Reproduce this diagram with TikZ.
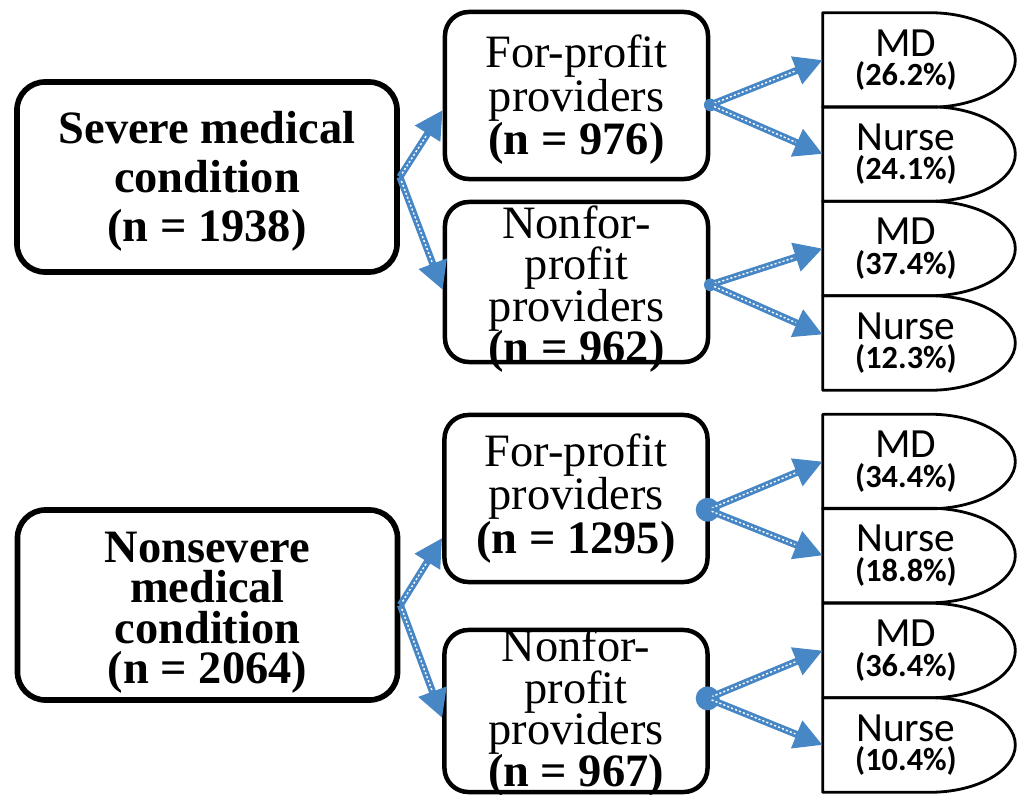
\documentclass[tikz,border=0pt]{standalone}
\usepackage{fontspec}
\setmainfont{Liberation Serif}
\newfontfamily\carlito{Carlito}
\usetikzlibrary{arrows.meta,calc}
\definecolor{ablue}{RGB}{72,135,197}
\newcommand\lsl{\lineskiplimit=-50pt\relax}
\newcommand\Dpath[1]{\draw[dline] (#1.north west) -- ($(#1.north west)+(107,0)$) .. controls +(47,0) and +(0,-26) .. (#1.east) .. controls +(0,26) and +(47,0) .. ($(#1.south west)+(107,0)$) -- (#1.south west) -- cycle;}
\newcommand\pct[1]{{\fontsize{23pt}{21pt}\selectfont\bfseries(#1\%)}}
\begin{document}
\begin{tikzpicture}[x=0.025cm,y=-0.025cm,
  bigbox/.style={draw, line width=4pt, rounded corners=20pt, minimum width=9.5cm, minimum height=4.75cm, inner sep=0pt},
  bigtext/.style={align=center, inner sep=0pt, font={\fontsize{33pt}{35pt}\selectfont\bfseries\lsl}},
  midbox/.style={draw, line width=3.2pt, rounded corners=17pt, minimum width=6.575cm, inner sep=0pt},
  midtext/.style={align=center, inner sep=0pt, font={\fontsize{33pt}{31pt}\selectfont\lsl}},
  dbox/.style={rectangle, minimum width=4.8cm, minimum height=2.35cm, inner sep=0pt},
  dline/.style={line width=2pt, line join=round},
  dtext/.style={align=center, inner sep=0pt, font={\carlito\fontsize{29.5pt}{21pt}\selectfont\lsl}},
  arr/.style={draw=ablue, line width=5pt, -{Triangle[length=20pt,width=20pt]}, postaction={draw=white, line width=1pt, dash pattern=on 1.5pt off 1.5pt, -, shorten >=21pt, shorten <=3pt}},
  dot/.style={circle, fill=ablue, inner sep=0pt, minimum size=#1}
]
\useasboundingbox (0,0) rectangle (1022,795);

% left boxes
\node[bigbox] (sev) at (207,177) {};
\node[bigtext] (sevt) at ([yshift=-3pt]sev.center) {Severe medical\\condition\\(n = 1938)};
\node[bigbox] (nsev) at (207.5,605) {};
\node[bigtext, font={\fontsize{33pt}{28.5pt}\selectfont\bfseries\lsl}] (nsevt) at ([yshift=-5.5pt]nsev.center) {Nonsevere\\medical\\condition\\(n = 2064)};

% middle boxes
\node[midbox, minimum height=4.175cm] (fp1) at (576.5,95.5) {};
\node[midtext] (fp1t) at ([yshift=-3pt]fp1.center) {For-profit\\providers\\\textbf{(n = 976)}};
\node[midbox, minimum height=4.0cm] (nf2) at (576.5,282) {};
\node[midtext, font={\fontsize{33pt}{29.5pt}\selectfont\lsl}] (nf2t) at ([yshift=-5pt]nf2.center) {Nonfor-\\profit\\providers\\\textbf{(n = 962)}};
\node[midbox, minimum height=4.175cm] (fp3) at (576,498.5) {};
\node[midtext] (fp3t) at (fp3.center) {For-profit\\providers\\\textbf{(n = 1295)}};
\node[midbox, minimum height=4.05cm] (nf4) at (576,711) {};
\node[midtext, font={\fontsize{33pt}{29.5pt}\selectfont\lsl}] (nf4t) at ([yshift=-1pt]nf4.center) {Nonfor-\\profit\\providers\\\textbf{(n = 967)}};

% D shapes
\node[dbox] (md1) at (919,60) {};
\node[dbox] (nu1) at (919,154) {};
\node[dbox] (md2) at (919,248.5) {};
\node[dbox] (nu2) at (919,343) {};
\node[dbox] (md3) at (919,461.5) {};
\node[dbox] (nu3) at (919,555.5) {};
\node[dbox] (md4) at (919,650.5) {};
\node[dbox] (nu4) at (919,745) {};
\Dpath{md1}\Dpath{nu1}\Dpath{md2}\Dpath{nu2}\Dpath{md3}\Dpath{nu3}\Dpath{md4}\Dpath{nu4}
\node[dtext] (md1t) at (906,60) {MD\\\pct{26.2}};
\node[dtext] (nu1t) at (906,154) {Nurse\\\pct{24.1}};
\node[dtext] (md2t) at (906,248.5) {MD\\\pct{37.4}};
\node[dtext] (nu2t) at (906,343) {Nurse\\\pct{12.3}};
\node[dtext] (md3t) at (906,461.5) {MD\\\pct{34.4}};
\node[dtext] (nu3t) at (906,555.5) {Nurse\\\pct{18.8}};
\node[dtext] (md4t) at (906,650.5) {MD\\\pct{36.4}};
\node[dtext] (nu4t) at (906,745) {Nurse\\\pct{10.4}};

% origins
\node[dot=9pt] (o1) at ([yshift=-6.7pt]fp1.east) {};
\node[dot=9pt] (o2) at ([yshift=-2pt]nf2.east) {};
\node[dot=17pt] (o3) at ([xshift=-1.5pt,yshift=-8pt]fp3.east) {};
\node[dot=17pt] (o4) at ([xshift=-1.5pt,yshift=9pt]nf4.east) {};

% arrows left
\draw[arr] (sev.east) -- ([yshift=-10.3pt]fp1.west);
\draw[arr] (sev.east) -- ([yshift=-5.7pt]nf2.west);
\draw[arr] (nsev.east) -- ([yshift=-28pt]fp3.west);
\draw[arr] (nsev.east) -- ([yshift=-5pt]nf4.west);

% arrows right
\draw[arr] (o1.center) -- (md1.west);
\draw[arr] (o1.center) -- (nu1.west);
\draw[arr] (o2.center) -- (md2.west);
\draw[arr] (o2.center) -- ([yshift=6pt]nu2.west);
\draw[arr] (o3.center) -- (md3.west);
\draw[arr] (o3.center) -- (nu3.west);
\draw[arr] (o4.center) -- (md4.west);
\draw[arr] (o4.center) -- (nu4.west);
\end{tikzpicture}
\end{document}
